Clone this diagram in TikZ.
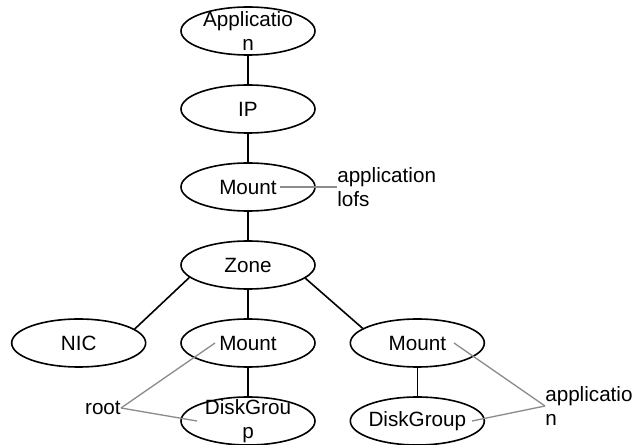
\documentclass[tikz,border=0pt]{standalone}
\usepackage{fontspec}
\setmainfont{Liberation Sans}
\usepackage{xcolor}
\usepackage{tikz}
\usetikzlibrary{shapes.geometric, positioning}
\tikzstyle{lbl} = [align=center, inner sep=0pt]
\tikzstyle{note} = [line width=1pt, draw=black!45]
\tikzstyle{notetext} = [align=left, inner sep=0pt]
\tikzstyle{straight} = [edge from parent path={(\tikzparentnode) -- (\tikzchildnode)}]
\tikzset{
	res/.style={ellipse, draw, line width=1.2pt, minimum width=100.5pt, minimum height=36pt, inner sep=0pt, label={[lbl]center:{#1}}},
	side/.style 2 args={edge from parent path={(\tikzparentnode.#1) -- (\tikzchildnode.#2)}}
}

\begin{document}
\begin{tikzpicture}[
			x=0.75pt, y=-0.75pt,
			font=\fontsize{15.5pt}{18pt}\selectfont,
			level distance=58.5pt,
			sibling distance=127pt,
			edge from parent/.style={draw, line width=1.2pt}
			]
			\useasboundingbox (0,0) rectangle (640,445);
			
			% Resource tree
			\node[res={Applicatio\\n}] (app) at (248,31) {}
			child {node[res=IP] (ip) {}
				child {node[res=Mount] (mlofs) {}
					child {node[res=Zone] (zone) {}
						child[side={192}{14}] {node[res=NIC] (nic) {}}
						child {node[res=Mount] (mroot) {}
							child {node[res={DiskGrou\\p}] (dgroot) {}}
						}
						child[side={347}{165}] {node[res=Mount] (mapp) {}
							child[straight] {node[res=DiskGroup] (dgapp) {}}
						}
					}
				}
			};
			
			% Annotations
			\node[notetext, anchor=west] (lofs) at (337,187) {application\\lofs};
			\node[notetext, anchor=east] (root) at (121,408) {root};
			\node[notetext, anchor=west] (appl) at (545,406) {applicatio\\n};
			\coordinate (lofsend) at (280,187);
			\coordinate (mrootend) at (215,343);
			\coordinate (dgrootend) at (197,421);
			\coordinate (mappend) at (454,343);
			\coordinate (dgappend) at (472,421);
			\draw[note] (lofsend) -- (lofs.west);
			\draw[note] (root.east) -- (mrootend);
			\draw[note] (root.east) -- (dgrootend);
			\draw[note] (appl.west) -- (mappend);
			\draw[note] (appl.west) -- (dgappend);
			
		\end{tikzpicture}
\end{document}
